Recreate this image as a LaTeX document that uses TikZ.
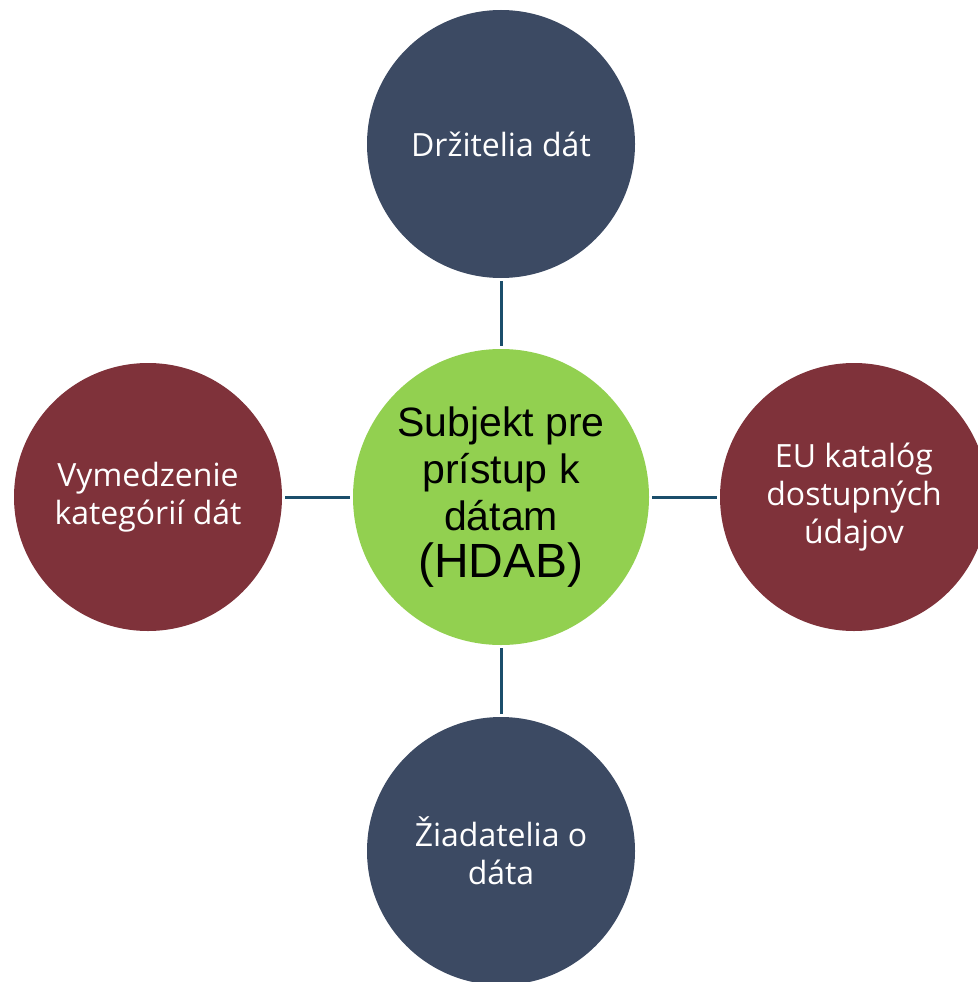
\documentclass[tikz,border=0pt]{standalone}
\usepackage{fontspec}
\setmainfont{Open Sans}
\newfontfamily\centerfont{Liberation Sans}
\definecolor{navyc}{HTML}{3C4A63}
\definecolor{maroonc}{HTML}{7F323A}
\definecolor{greenc}{HTML}{92D050}
\definecolor{linec}{HTML}{1B4E6B}
\tikzset{
  outer/.style={circle, minimum size=268pt, inner sep=0pt, text=white, align=center,
    font=\fontsize{32}{38}\selectfont},
  bluec/.style={outer, fill=navyc},
  redc/.style={outer, fill=maroonc},
  hub/.style={circle, minimum size=296pt, inner sep=0pt, fill=greenc, text=black, align=center,
    font=\centerfont\fontsize{41}{47}\selectfont},
  conn/.style={draw=linec, line width=3pt, shorten <=3pt, shorten >=3pt}
}
\begin{document}
\begin{tikzpicture}[x=1pt,y=-1pt]
\useasboundingbox (0,0) rectangle (977,982);
\node[hub] (c) at (501,497) {Subjekt pre\\prístup k\\dátam\\{\fontsize{48}{55}\selectfont (HDAB)}};
\node[bluec] (t) at (501,144) {Držitelia dát};
\node[bluec] (b) at (501,851) {Žiadatelia o\\dáta};
\node[redc] (l) at (148,497) {Vymedzenie\\kategórií dát};
\node[redc] (r) at (854,497) {EU katalóg\\dostupných\\údajov};
\draw[conn] (t) -- (c);
\draw[conn] (c) -- (b);
\draw[conn] (l) -- (c);
\draw[conn] (c) -- (r);
\end{tikzpicture}
\end{document}
